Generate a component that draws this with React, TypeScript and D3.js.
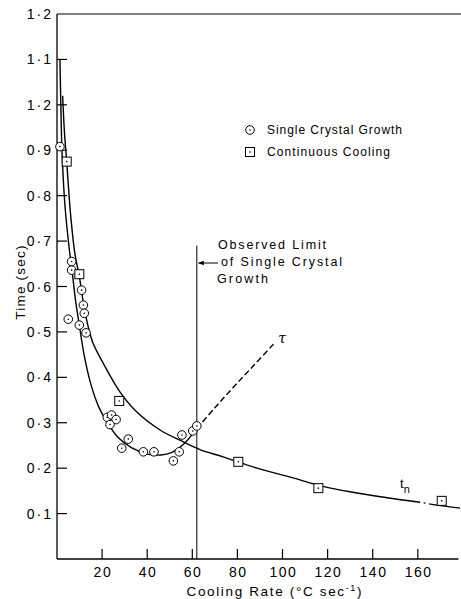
import React from "react";
import * as d3 from "d3";

// values
const tauX = [1.3, 1.7, 2.2, 3.5, 5.5, 6.8, 8.2, 9.9, 12, 15, 18.5, 22, 27, 33, 40, 46, 51, 56, 62];
const tauY = [1.1, 1.0, 0.9, 0.78, 0.68, 0.63, 0.57, 0.515, 0.45, 0.385, 0.335, 0.303, 0.268, 0.245, 0.231, 0.229, 0.235, 0.252, 0.287];

const tauDashX = [62, 70, 78, 87, 96];
const tauDashY = [0.287, 0.333, 0.377, 0.425, 0.473];

const tnX = [2.5, 3.3, 4.3, 6, 8, 9.8, 12, 13.9, 16, 20.5, 27.9, 35.3, 45.7, 56, 63.4, 73.6, 88.7, 105, 118, 130, 145, 161];
const tnY = [1.02, 0.94, 0.875, 0.76, 0.67, 0.625, 0.555, 0.51, 0.475, 0.431, 0.368, 0.324, 0.284, 0.258, 0.241, 0.225, 0.2, 0.178, 0.16, 0.148, 0.136, 0.125];
const tnDotX = [162.6, 163.4];
const tnDotY = [0.1235, 0.123];
const tnTailX = [165, 171, 178.7];
const tnTailY = [0.1215, 0.117, 0.112];

const crystalX = [1.3, 6.5, 6.5, 10.9, 11.7, 12.1, 5.0, 9.9, 12.9, 22.3, 24.2, 26.2, 23.5, 31.6, 28.7, 38.3, 43, 51.6, 54.2, 55.4, 60.2, 62];
const crystalY = [0.908, 0.655, 0.636, 0.592, 0.559, 0.541, 0.528, 0.515, 0.498, 0.312, 0.317, 0.307, 0.296, 0.264, 0.244, 0.236, 0.236, 0.216, 0.236, 0.273, 0.282, 0.293];

const coolingX = [4.3, 9.9, 27.6, 80.4, 115.9, 170.6];
const coolingY = [0.875, 0.627, 0.348, 0.214, 0.156, 0.128];

const xTicks = [20, 40, 60, 80, 100, 120, 140, 160];
const yTicks = [0.1, 0.2, 0.3, 0.4, 0.5, 0.6, 0.7, 0.8, 0.9, 1.0, 1.1, 1.2];
const yTickLabels = ["0·1", "0·2", "0·3", "0·4", "0·5", "0·6", "0·7", "0·8", "0·9", "1·2", "1·1", "1·2"];

const limitX = 62;
const limitTop = 0.69;

const W = 461;
const H = 599;
const FONT = "'Liberation Sans', Arial, sans-serif";

const x = d3.scaleLinear().domain([0, 178]).range([57, 458.4]);
const y = d3.scaleLinear().domain([0, 1.2]).range([559, 14]);

const zip = (xs: number[], ys: number[]) => xs.map((v, i) => [v, ys[i]] as [number, number]);

const line = d3
  .line<[number, number]>()
  .x((d) => x(d[0]))
  .y((d) => y(d[1]))
  .curve(d3.curveCatmullRom.alpha(0.5));

const Circle = ({ cx, cy }: { cx: number; cy: number }) => (
  <g>
    <circle cx={cx} cy={cy} r={4.3} fill="white" stroke="black" strokeWidth={1} />
    <circle cx={cx} cy={cy} r={0.8} fill="black" />
  </g>
);

const Square = ({ cx, cy }: { cx: number; cy: number }) => (
  <g>
    <rect x={cx - 4.5} y={cy - 4.5} width={9} height={9} fill="white" stroke="black" strokeWidth={1} />
    <circle cx={cx} cy={cy} r={0.8} fill="black" />
  </g>
);

export default function App() {
  return (
    <svg
      width={W}
      height={H}
      style={{ position: "absolute", left: 0, top: 0, background: "white" }}
      fontFamily={FONT}
    >
      <rect width={W} height={H} fill="white" />

      {/* frame: left axis, top border, bottom axis */}
      <line x1={x(0)} x2={x(0)} y1={y(1.2)} y2={y(0)} stroke="black" strokeWidth={1.3} />
      <line x1={x(0)} x2={W} y1={y(1.2)} y2={y(1.2)} stroke="black" strokeWidth={1} />
      <line x1={x(0)} x2={x(178)} y1={y(0)} y2={y(0)} stroke="black" strokeWidth={1.3} />

      {yTicks.map((t, i) => (
        <g key={"y" + t}>
          {t < 1.2 && <line x1={x(0)} x2={x(0) + 10} y1={y(t)} y2={y(t)} stroke="black" strokeWidth={1.2} />}
          <text x={53} y={y(t)} dy="0.36em" textAnchor="end" fontSize={14} letterSpacing={2}>
            {yTickLabels[i]}
          </text>
        </g>
      ))}

      {xTicks.map((t) => (
        <g key={"x" + t}>
          <line x1={x(t)} x2={x(t)} y1={y(0)} y2={y(0) - 10} stroke="black" strokeWidth={1.2} />
          <text x={x(t) + 0.8} y={577} textAnchor="middle" fontSize={14} letterSpacing={1.5}>
            {t}
          </text>
        </g>
      ))}

      <text x={274} y={596} textAnchor="middle" fontSize={13.5} textLength={175} lengthAdjust="spacing">
        Cooling Rate (°C sec
        <tspan dy={-5} fontSize={9}>-1</tspan>
        <tspan dy={5}>)</tspan>
      </text>

      <text
        transform={`translate(25,282) rotate(-90)`}
        textAnchor="middle"
        fontSize={13.5}
        letterSpacing={1.2}
      >
        Time (sec)
      </text>

      {/* legend */}
      <Circle cx={250} cy={130} />
      <text x={267} y={130} dy="0.36em" fontSize={12} textLength={135} lengthAdjust="spacing">
        Single Crystal Growth
      </text>
      <Square cx={250} cy={152} />
      <text x={267} y={152} dy="0.36em" fontSize={12} textLength={123} lengthAdjust="spacing">
        Continuous Cooling
      </text>

      {/* observed limit */}
      <line x1={x(limitX)} x2={x(limitX)} y1={y(limitTop)} y2={y(0)} stroke="black" strokeWidth={1} />
      <line x1={x(limitX) + 2} x2={218} y1={263} y2={263} stroke="black" strokeWidth={1} />
      <path d={`M${x(limitX) + 1},263 l6,-2.2 l0,4.4 z`} fill="black" />
      <g fontSize={12.5}>
        <text x={218} y={249} textLength={108} lengthAdjust="spacing">Observed Limit</text>
        <text x={221} y={266} textLength={121} lengthAdjust="spacing">of Single Crystal</text>
        <text x={217} y={283} textLength={51} lengthAdjust="spacing">Growth</text>
      </g>

      {/* curves */}
      <path d={line(zip(tauX, tauY)) ?? ""} fill="none" stroke="black" strokeWidth={1.4} />
      <path
        d={line(zip(tauDashX, tauDashY)) ?? ""}
        fill="none"
        stroke="black"
        strokeWidth={1.4}
        strokeDasharray="6,3"
      />
      <path d={line(zip(tnX, tnY)) ?? ""} fill="none" stroke="black" strokeWidth={1.4} />
      <path d={line(zip(tnDotX, tnDotY)) ?? ""} fill="none" stroke="black" strokeWidth={1.4} />
      <path d={line(zip(tnTailX, tnTailY)) ?? ""} fill="none" stroke="black" strokeWidth={1.4} />

      <text x={282} y={343} textAnchor="middle" fontSize={14} fontFamily="'DejaVu Serif', serif" fontStyle="italic">
        τ
      </text>
      <text x={400} y={488} fontSize={13}>
        t<tspan dy={5} fontSize={11}>n</tspan>
      </text>

      {/* points */}
      {crystalX.map((v, i) => (
        <Circle key={"c" + i} cx={x(v)} cy={y(crystalY[i])} />
      ))}
      {coolingX.map((v, i) => (
        <Square key={"s" + i} cx={x(v)} cy={y(coolingY[i])} />
      ))}
    </svg>
  );
}
